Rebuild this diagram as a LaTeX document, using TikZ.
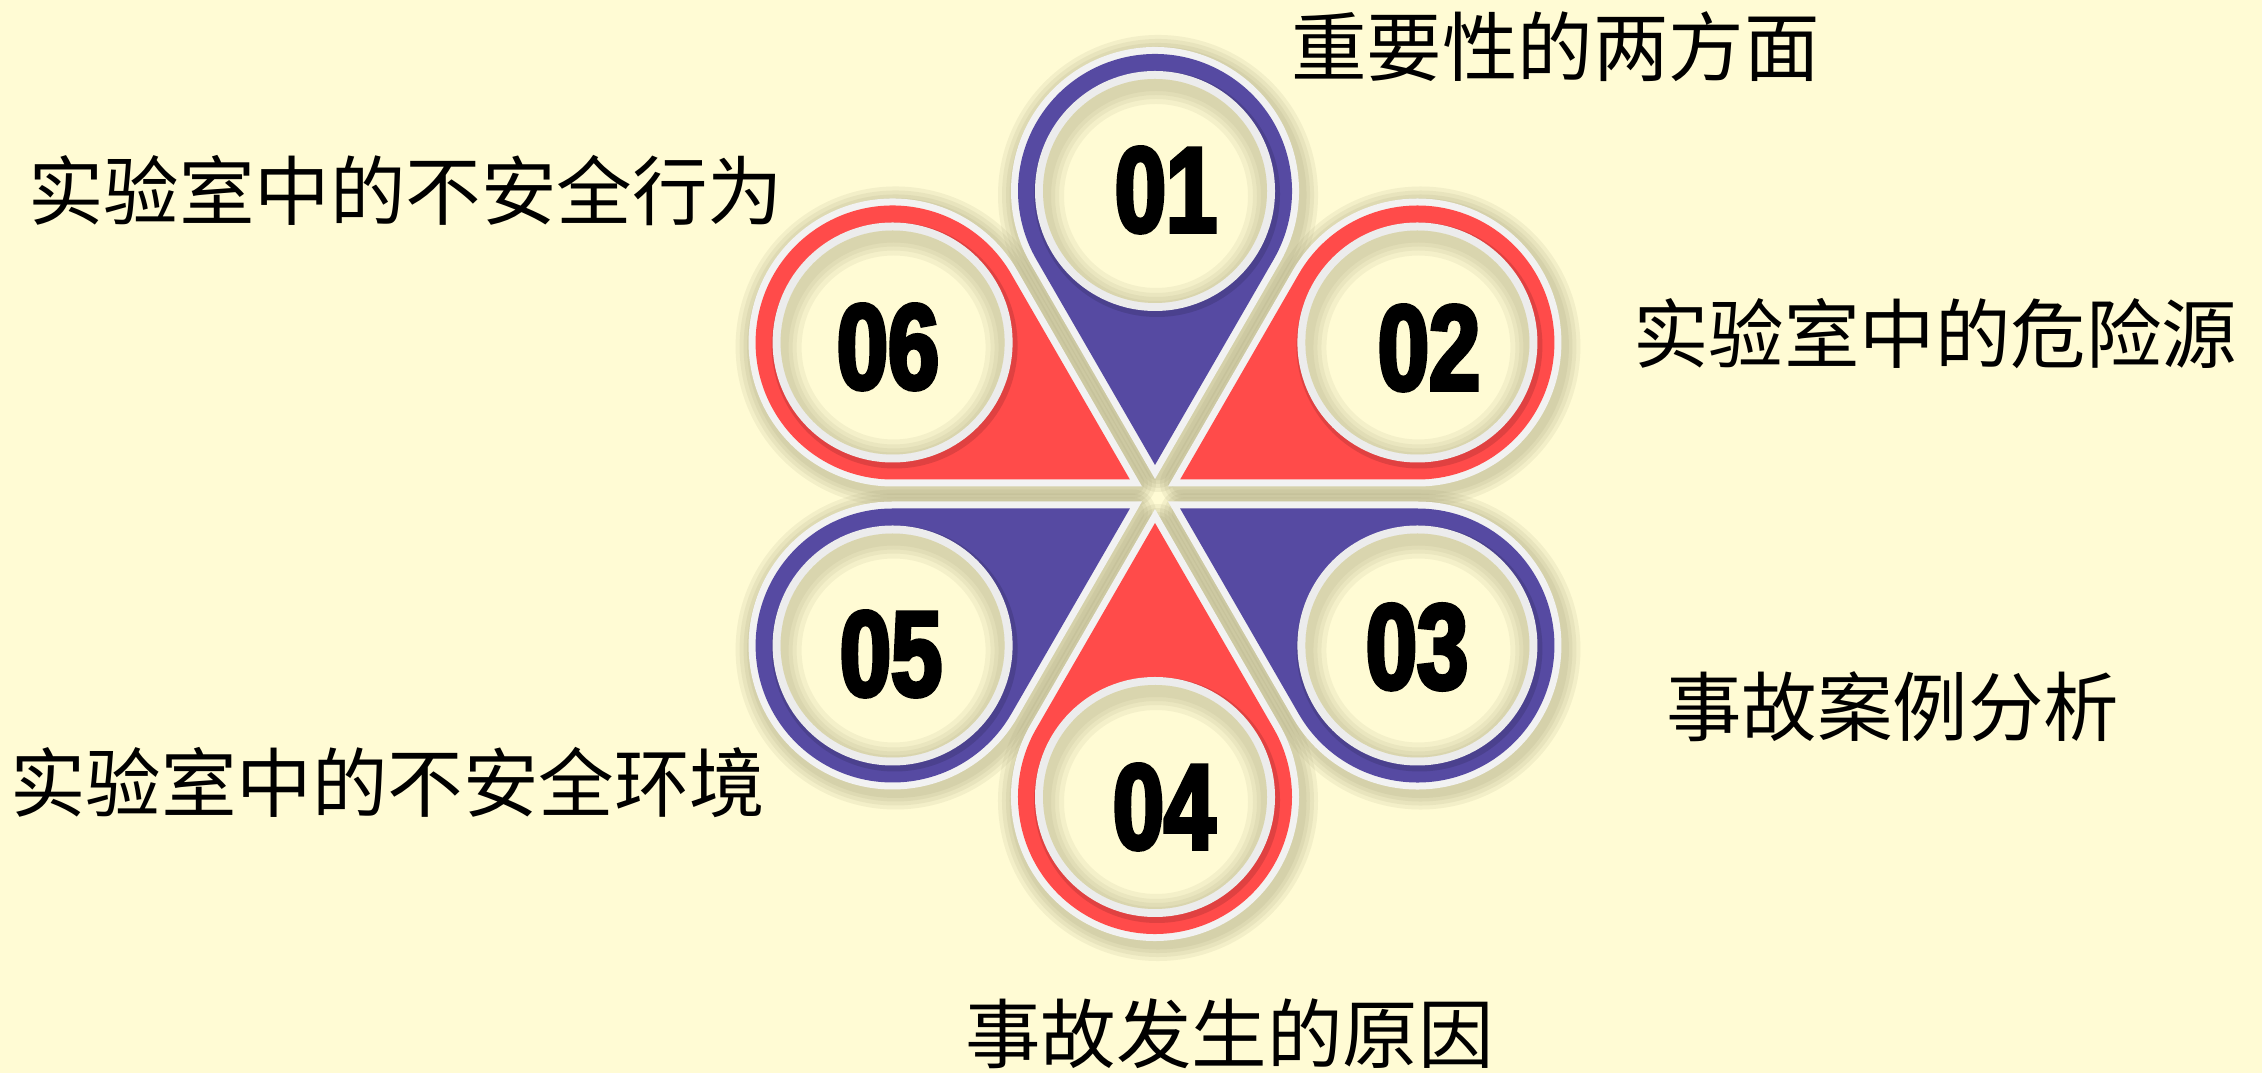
\documentclass[tikz,border=0pt]{standalone}
\usepackage{fontspec}
\newfontfamily\cjk{Noto Sans CJK SC}
\newfontfamily\numfont{Liberation Sans Bold}[FakeStretch=0.76,FakeBold=3.5]
\usetikzlibrary{calc}
\definecolor{bgc}{RGB}{255,251,212}
\definecolor{pur}{RGB}{86,74,162}
\definecolor{redc}{RGB}{255,75,74}
\definecolor{bord}{RGB}{242,242,242}
\definecolor{ringc}{RGB}{236,236,236}
\definecolor{shad}{RGB}{140,135,95}

\tikzset{
  lbl/.style={font=\cjk\fontsize{75.5}{80}\selectfont, anchor=base west, inner sep=0pt, text=black},
  numtxt/.style={font=\numfont\fontsize{121}{121}\selectfont, inner sep=0pt, text=black},
  pinshade/.style={shad, opacity=0.10, line join=round},
  pinborder/.style={bord, line width=14pt, line join=miter},
}

\newcommand\pinshadow[2]{%
  \coordinate (#1c) at ($(C)+(#2:303pt)$);
  \coordinate (#1t) at ($(C)+(#2:29pt)$);
  \foreach \w in {46,38,30,23}{
    \draw[pinshade, line width=\w pt]
      ($(#1t)+(3pt,-4pt)$) -- ($(#1c)+(3pt,-4pt)+(#2-120:137pt)$)
      arc[start angle=#2-120, delta angle=240, radius=137pt] -- cycle;
  }
}

\newcommand\pinbody[5]{%
  \draw[pinborder]
    (#1t) -- ($(#1c)+(#2-120:137pt)$)
    arc[start angle=#2-120, delta angle=240, radius=137pt] -- cycle;
  \fill[#3]
    (#1t) -- ($(#1c)+(#2-120:137pt)$)
    arc[start angle=#2-120, delta angle=240, radius=137pt] -- cycle;
  \fill[black, opacity=0.12] ($(#1c)+(2pt,-3pt)$) circle (123pt);
  \fill[ringc] (#1c) circle (120pt);
  \fill[bgc] (#1c) circle (112pt);
  \begin{scope}
    \clip (#1c) circle (112pt);
    \foreach \w in {40,30,22,14}{
      \draw[shad, opacity=0.09, line width=\w pt] ($(#1c)+(1pt,-5pt)$) circle (112pt);
    }
  \end{scope}
  \node[numtxt] (#1n) at (#5) {#4};
}

\begin{document}
\begin{tikzpicture}[x=1pt,y=1pt]
\useasboundingbox (0,0) rectangle (2262,1073);
\fill[bgc] (0,0) rectangle (2262,1073);
\coordinate (C) at (1155,579);

% shadows first
\pinshadow{p01}{90}
\pinshadow{p02}{30}
\pinshadow{p03}{-30}
\pinshadow{p04}{-90}
\pinshadow{p05}{210}
\pinshadow{p06}{150}

% pin bodies
\pinbody{p01}{90}{pur}{01}{1166,883}
\pinbody{p02}{30}{redc}{02}{1429,725}
\pinbody{p03}{-30}{pur}{03}{1417,426}
\pinbody{p04}{-90}{redc}{04}{1164,266}
\pinbody{p05}{210}{pur}{05}{891,419}
\pinbody{p06}{150}{redc}{06}{888,726}

% labels
\node[lbl] (t01) at (1291,997) {重要性的两方面};
\node[lbl] (t06) at (28,853) {实验室中的不安全行为};
\node[lbl] (t02) at (1633,710) {实验室中的危险源};
\node[lbl] (t03) at (1666,337) {事故案例分析};
\node[lbl] (t05) at (10,261) {实验室中的不安全环境};
\node[lbl] (t04) at (965,10) {事故发生的原因};
\end{tikzpicture}
\end{document}
